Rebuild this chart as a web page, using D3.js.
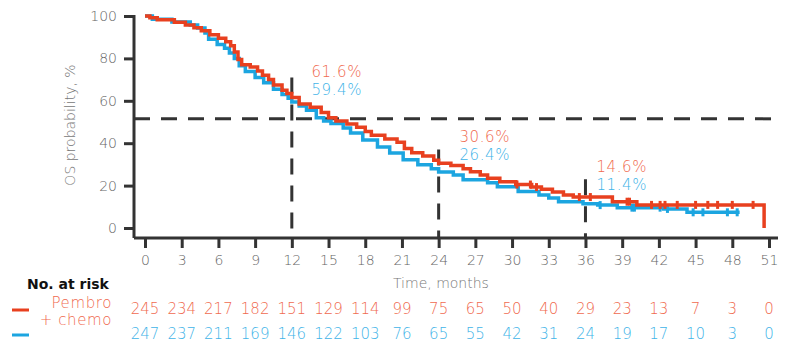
<!DOCTYPE html>
<html>
<head>
<meta charset="utf-8">
<script src="https://cdn.jsdelivr.net/npm/d3@7"></script>
<style>
  body { margin: 0; background: #fff; }
  text { font-family: "DejaVu Sans", sans-serif; }
</style>
</head>
<body>
<div id="plot"></div>
<script>
const WIDTH = 792;
const HEIGHT = 344;

// x ticks (months)
const xTicks = [0, 3, 6, 9, 12, 15, 18, 21, 24, 27, 30, 33, 36, 39, 42, 45, 48, 51];
const yTicks = [0, 20, 40, 60, 80, 100];

// Pembro + chemo KM steps (time, survival %)
const redTimes = [0, 0.4, 1.0, 2.4, 3.3, 4.0, 4.6, 5.3, 6.0, 6.6, 7.0, 7.3, 7.6, 7.9, 8.6, 9.2, 9.6, 10.1, 10.5, 11.2, 11.6,
  12.0, 12.6, 13.5, 14.4, 15.0, 15.6, 16.5, 17.3, 18.0, 18.5, 19.6, 20.6, 21.2, 21.8, 22.7, 23.6,
  24.0, 25.0, 26.0, 26.6, 27.4, 28.0, 29.0, 30.3, 31.6, 32.4, 33.3, 34.2, 35.0, 38.2, 40.2, 50.6];
const redSurv = [100, 99.2, 98.2, 97.0, 95.8, 94.5, 93.0, 91.2, 89.5, 87.8, 86.0, 83.0, 79.5, 77.0, 76.0, 74.0, 72.0, 70.0, 67.5, 65.0, 63.5,
  61.6, 58.5, 57.0, 54.5, 52.0, 50.5, 49.0, 47.5, 45.5, 43.8, 42.0, 40.5, 37.5, 35.5, 34.0, 32.0,
  30.6, 29.5, 28.0, 26.5, 25.0, 23.5, 21.8, 20.5, 19.3, 18.3, 17.0, 15.6, 14.6, 12.4, 10.9, 0];
const redCensor = [30.4, 31.5, 32.0, 35.5, 36.4, 39.4, 39.6, 41.4, 42.1, 42.5, 43.5, 45.0, 46.0, 46.8, 48.0, 49.7];

// chemo KM steps
const blueTimes = [0, 0.6, 2.2, 3.7, 4.3, 4.9, 5.2, 5.9, 6.5, 6.9, 7.3, 7.7, 8.2, 9.0, 9.7, 10.5, 11.2, 11.7,
  12.0, 12.6, 13.2, 14.0, 14.6, 15.2, 16.2, 16.8, 17.8, 19.0, 20.0, 21.1, 22.3, 23.4,
  24.0, 25.2, 26.0, 28.0, 28.8, 30.5, 32.2, 33.0, 33.8, 35.8, 37.0, 38.6, 42.4, 44.3, 48.6];
const blueSurv = [100, 98.5, 97.2, 95.8, 94.3, 92.0, 89.0, 86.5, 84.8, 82.5, 80.0, 76.5, 73.8, 71.0, 68.5, 65.5, 63.0, 61.2,
  59.4, 57.5, 55.5, 52.0, 50.5, 49.3, 47.2, 44.8, 41.5, 38.2, 35.4, 32.2, 29.8, 28.0,
  26.4, 25.0, 22.8, 21.3, 19.5, 17.2, 15.6, 14.2, 12.4, 11.4, 10.8, 9.6, 9.0, 7.4, 7.4];
const blueCensor = [37.2, 39.8, 40.0, 42.1, 42.7, 44.8, 45.6, 47.6, 48.4];

// landmark annotations
const landmarkTimes = [12, 24, 36];
const landmarkTop = [71, 37, 23];
const labelTimes = [13.6, 25.7, 36.9];
const labelLevel = [71.2, 40.6, 26.4];
const redLabels = ["61.6%", "30.6%", "14.6%"];
const blueLabels = ["59.4%", "26.4%", "11.4%"];
const medianLevel = 51.5;

// numbers at risk
const redRisk = [245, 234, 217, 182, 151, 129, 114, 99, 75, 65, 50, 40, 29, 23, 13, 7, 3, 0];
const blueRisk = [247, 237, 211, 169, 146, 122, 103, 76, 65, 55, 42, 31, 24, 19, 17, 10, 3, 0];

const RED = "#e8401f";
const BLUE = "#1ca5e0";
const RED_TXT = "#f06a4f";
const BLUE_TXT = "#3fb4e8";
const AXIS = "#333";

const svg = d3.select("#plot").append("svg")
  .attr("width", WIDTH)
  .attr("height", HEIGHT);

const X = d3.scaleLinear().domain([0, 51]).range([145, 769]);
const Y = d3.scaleLinear().domain([0, 100]).range([228, 16]);
const AXIS_Y = 238;
const AXIS_X = 134;

// dashed reference lines
svg.append("line")
  .attr("x1", AXIS_X).attr("x2", 778)
  .attr("y1", Y(medianLevel)).attr("y2", Y(medianLevel))
  .attr("stroke", AXIS).attr("stroke-width", 3).attr("stroke-dasharray", "16,11");

svg.selectAll("line.vdash")
  .data(landmarkTimes)
  .enter().append("line")
    .attr("class", "vdash")
    .attr("x1", d => X(d)).attr("x2", d => X(d))
    .attr("y1", (d, i) => Y(landmarkTop[i])).attr("y2", AXIS_Y)
    .attr("stroke", AXIS).attr("stroke-width", 3).attr("stroke-dasharray", "16,11");

// curves
const line = d3.line()
  .x(d => X(d[0]))
  .y(d => Y(d[1]))
  .curve(d3.curveStepAfter);

const stepAt = (times, surv, t) => {
  let v = surv[0];
  for (let i = 0; i < times.length; i++) {
    if (times[i] <= t) v = surv[i];
  }
  return v;
};

function drawCurve(times, surv, censor, color) {
  svg.append("path")
    .datum(times.map((t, i) => [t, surv[i]]))
    .attr("d", line)
    .attr("fill", "none")
    .attr("stroke", color)
    .attr("stroke-width", 3.5);
  svg.selectAll(null)
    .data(censor)
    .enter().append("line")
      .attr("x1", d => X(d)).attr("x2", d => X(d))
      .attr("y1", d => Y(stepAt(times, surv, d)) - 4)
      .attr("y2", d => Y(stepAt(times, surv, d)) + 4)
      .attr("stroke", color).attr("stroke-width", 3);
}
drawCurve(blueTimes, blueSurv, blueCensor, BLUE);
drawCurve(redTimes, redSurv, redCensor, RED);

// axes
const yAxis = svg.append("g")
  .attr("transform", "translate(" + AXIS_X + ",0)")
  .call(d3.axisLeft(Y).tickValues(yTicks).tickSize(10).tickPadding(7));
yAxis.select(".domain").attr("d", "M0,15V" + AXIS_Y);

const xAxis = svg.append("g")
  .attr("transform", "translate(0," + AXIS_Y + ")")
  .call(d3.axisBottom(X).tickValues(xTicks).tickSize(10).tickPadding(7));
xAxis.select(".domain").attr("d", "M" + AXIS_X + ",0H778");

svg.selectAll(".domain").attr("stroke", AXIS).attr("stroke-width", 3);
svg.selectAll(".tick line").attr("stroke", AXIS).attr("stroke-width", 3);
svg.selectAll(".tick text")
  .attr("fill", "#666")
  .attr("font-size", 14)
  .attr("font-weight", 200)
  .attr("font-family", "DejaVu Sans, sans-serif");

// axis titles
svg.append("text")
  .attr("transform", "translate(75,125) rotate(-90)")
  .attr("text-anchor", "middle")
  .attr("fill", "#777").attr("font-size", 14).attr("font-weight", 200)
  .text("OS probability, %");

svg.append("text")
  .attr("x", 393).attr("y", 288)
  .attr("fill", "#777").attr("font-size", 14).attr("font-weight", 200)
  .text("Time, months");

// annotations
svg.selectAll(null).data(redLabels).enter().append("text")
  .attr("x", (d, i) => X(labelTimes[i]))
  .attr("y", (d, i) => Y(labelLevel[i]))
  .attr("fill", RED_TXT).attr("font-size", 15).attr("font-weight", 200)
  .attr("letter-spacing", 0.6)
  .text(d => d);
svg.selectAll(null).data(blueLabels).enter().append("text")
  .attr("x", (d, i) => X(labelTimes[i]))
  .attr("y", (d, i) => Y(labelLevel[i]) + 18)
  .attr("fill", BLUE_TXT).attr("font-size", 15).attr("font-weight", 200)
  .attr("letter-spacing", 0.6)
  .text(d => d);

// risk table
svg.append("text")
  .attr("x", 27).attr("y", 289)
  .attr("fill", "#111").attr("font-size", 14).attr("font-weight", "bold")
  .text("No. at risk");

svg.append("line").attr("x1", 12).attr("x2", 29).attr("y1", 310).attr("y2", 310)
  .attr("stroke", RED).attr("stroke-width", 3);
svg.append("line").attr("x1", 12).attr("x2", 29).attr("y1", 335).attr("y2", 335)
  .attr("stroke", BLUE).attr("stroke-width", 3);

svg.append("text")
  .attr("x", 112).attr("y", 308).attr("text-anchor", "end")
  .attr("fill", RED_TXT).attr("font-size", 15).attr("font-weight", 200).attr("letter-spacing", 0.6)
  .text("Pembro");
svg.append("text")
  .attr("x", 112).attr("y", 325).attr("text-anchor", "end")
  .attr("fill", RED_TXT).attr("font-size", 15).attr("font-weight", 200).attr("letter-spacing", 0.6)
  .text("+ chemo");

svg.selectAll(null).data(redRisk).enter().append("text")
  .attr("x", (d, i) => X(xTicks[i]))
  .attr("y", 314)
  .attr("text-anchor", "middle")
  .attr("fill", RED_TXT).attr("font-size", 15).attr("font-weight", 200)
  .text(d => d);
svg.selectAll(null).data(blueRisk).enter().append("text")
  .attr("x", (d, i) => X(xTicks[i]))
  .attr("y", 339)
  .attr("text-anchor", "middle")
  .attr("fill", BLUE_TXT).attr("font-size", 15).attr("font-weight", 200)
  .text(d => d);
</script>
</body>
</html>
